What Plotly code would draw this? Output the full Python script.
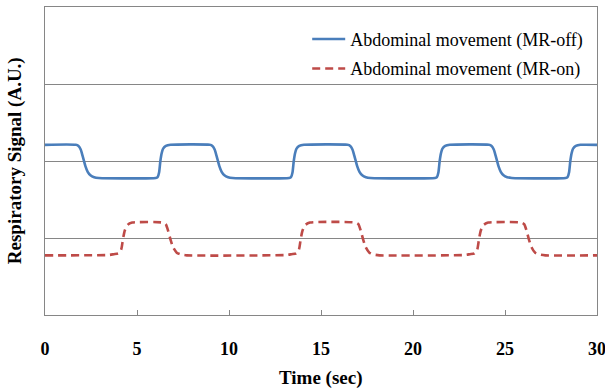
import plotly.graph_objects as go

# Time (s) and signal (A.U.)
t_off = [0, 1.67, 1.82, 1.94, 2.04, 2.12, 2.20, 2.32, 2.47, 2.67, 2.92,
         6.02, 6.12, 6.20, 6.27, 6.34, 6.42, 6.57, 6.82,
         8.95, 9.10, 9.22, 9.32, 9.40, 9.48, 9.60, 9.75, 9.95, 10.2,
         13.27, 13.37, 13.45, 13.52, 13.59, 13.67, 13.82, 14.07,
         16.44, 16.59, 16.71, 16.81, 16.89, 16.97, 17.09, 17.24, 17.44, 17.69,
         21.20, 21.30, 21.38, 21.45, 21.52, 21.60, 21.75, 22.00,
         24.12, 24.27, 24.39, 24.49, 24.57, 24.65, 24.77, 24.92, 25.12, 25.37,
         28.30, 28.40, 28.48, 28.55, 28.62, 28.70, 28.85, 29.10, 30]
y_off = [2.21, 2.21, 2.195, 2.15, 2.07, 2.0, 1.93, 1.86, 1.815, 1.79, 1.78,
         1.78, 1.79, 1.85, 2.0, 2.1, 2.16, 2.195, 2.21,
         2.21, 2.195, 2.15, 2.07, 2.0, 1.93, 1.86, 1.815, 1.79, 1.78,
         1.78, 1.79, 1.85, 2.0, 2.1, 2.16, 2.195, 2.21,
         2.21, 2.195, 2.15, 2.07, 2.0, 1.93, 1.86, 1.815, 1.79, 1.78,
         1.78, 1.79, 1.85, 2.0, 2.1, 2.16, 2.195, 2.21,
         2.21, 2.195, 2.15, 2.07, 2.0, 1.93, 1.86, 1.815, 1.79, 1.78,
         1.78, 1.79, 1.85, 2.0, 2.1, 2.16, 2.195, 2.21, 2.21]

t_on = [0, 3.5, 3.74, 3.99, 4.14, 4.24, 4.34, 4.49, 4.74,
        6.41, 6.56, 6.71, 6.81, 6.96, 7.16, 7.41, 7.71,
        13.16, 13.40, 13.65, 13.80, 13.90, 14.00, 14.15, 14.40,
        16.88, 17.03, 17.18, 17.28, 17.43, 17.63, 17.88, 18.18,
        22.85, 23.09, 23.34, 23.49, 23.59, 23.69, 23.84, 24.09,
        25.89, 26.04, 26.19, 26.29, 26.44, 26.64, 26.89, 27.19, 30]
y_on = [0.775, 0.78, 0.79, 0.80, 0.85, 0.99, 1.10, 1.17, 1.20,
        1.20, 1.18, 1.08, 0.99, 0.88, 0.81, 0.785, 0.775,
        0.78, 0.79, 0.80, 0.85, 0.99, 1.10, 1.17, 1.20,
        1.20, 1.18, 1.08, 0.99, 0.88, 0.81, 0.785, 0.775,
        0.78, 0.79, 0.80, 0.85, 0.99, 1.10, 1.17, 1.20,
        1.20, 1.18, 1.08, 0.99, 0.88, 0.81, 0.785, 0.775, 0.775]

x_ticks = [0, 5, 10, 15, 20, 25, 30]
names = ["Abdominal movement (MR-off)", "Abdominal movement (MR-on)"]
x_title = "Time (sec)"
y_title = "Respiratory Signal (A.U.)"

FONT = "Liberation Serif"
GRID = "#868686"

fig = go.Figure()
fig.add_trace(go.Scatter(x=t_off, y=y_off, mode="lines", name=names[0],
                         legendgroup="a",
                         line=dict(color="#4a7ebb", width=2.6, shape="spline", smoothing=0.6)))
fig.add_trace(go.Scatter(x=t_on, y=y_on, mode="lines", name=names[1],
                         legendgroup="b",
                         line=dict(color="#be4b48", width=2.6, dash="8px,5px",
                                   shape="spline", smoothing=0.6)))

fig.update_layout(
    width=605, height=389,
    margin=dict(l=45, r=8, t=7, b=74, autoexpand=False),
    paper_bgcolor="white", plot_bgcolor="white",
    font=dict(family=FONT, color="black"),
    showlegend=True,
    legend=dict(x=0.475, y=0.955, xanchor="left", yanchor="top",
                bgcolor="rgba(0,0,0,0)", font=dict(size=18, family=FONT),
                itemwidth=33, traceorder="grouped", tracegroupgap=3),
    xaxis=dict(range=[0, 30], tickvals=x_ticks, ticks="inside", ticklen=5,
               tickcolor=GRID, showgrid=False, zeroline=False, automargin=False,
               showline=True, linecolor=GRID, linewidth=1, mirror=True,
               tickfont=dict(size=18, family=FONT, weight="bold"),
               ticklabelstandoff=17, ticklabeloverflow="allow"),
    yaxis=dict(range=[0, 4], dtick=1, showticklabels=False, ticks="",
               showgrid=True, gridcolor=GRID, gridwidth=1, zeroline=False,
               automargin=False,
               showline=True, linecolor=GRID, linewidth=1, mirror=True),
    annotations=[
        dict(text="<b>" + x_title + "</b>", xref="paper", yref="paper",
             x=0.5, y=-0.205, xanchor="center", yanchor="middle", showarrow=False,
             font=dict(size=19, family=FONT)),
        dict(text="<b>" + y_title + "</b>", xref="paper", yref="paper",
             x=-0.054, y=0.5, xanchor="center", yanchor="middle", showarrow=False,
             textangle=-90, font=dict(size=19, family=FONT)),
    ],
)

fig.write_html("out.html", config={"displayModeBar": False},
               post_script="document.body.style.margin='0';document.body.style.overflow='hidden';")
